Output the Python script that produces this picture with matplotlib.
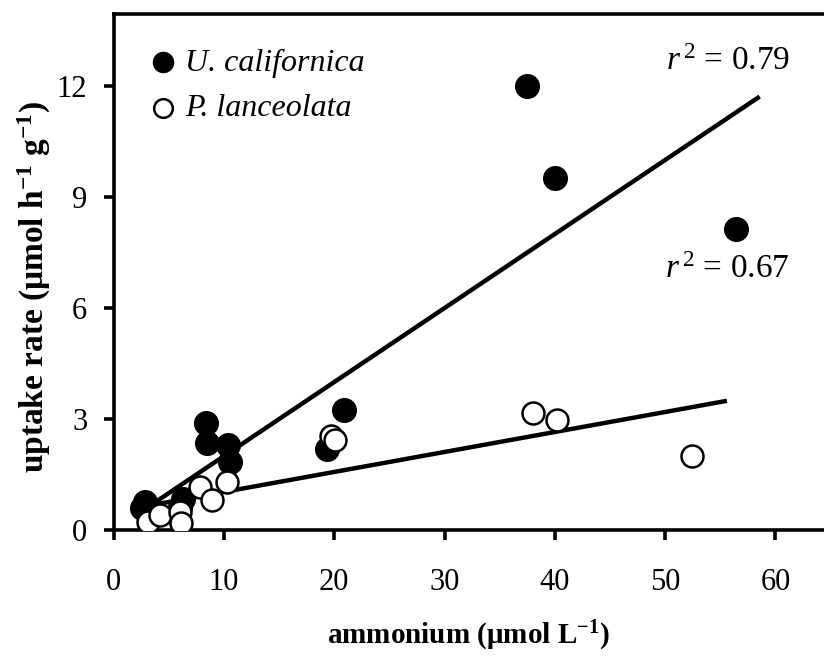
import matplotlib
matplotlib.use("Agg")
import numpy as np
import matplotlib.pyplot as plt

plt.rcParams['font.family'] = ['Liberation Serif', 'DejaVu Serif']
plt.rcParams['mathtext.fontset'] = 'custom'
plt.rcParams['mathtext.rm'] = 'Liberation Serif'
plt.rcParams['mathtext.it'] = 'Liberation Serif:italic'
plt.rcParams['mathtext.bf'] = 'Liberation Serif:bold'

# U. californica (filled)
uc_x = [2.8, 2.6, 6.3, 6.0, 8.4, 8.5, 10.4, 10.5, 19.3, 20.9, 37.5, 40.0, 56.4]
uc_y = [0.77, 0.6, 0.85, 0.62, 2.88, 2.35, 2.3, 1.85, 2.2, 3.24, 12.0, 9.5, 8.13]

# P. lanceolata (open)
pl_x = [3.1, 4.2, 6.0, 6.1, 7.8, 8.9, 10.3, 19.7, 20.1, 38.0, 40.2, 52.4]
pl_y = [0.22, 0.4, 0.5, 0.18, 1.15, 0.82, 1.3, 2.55, 2.42, 3.17, 2.97, 2.0]

# fitted lines: start/end x, slope, intercept
uc_fit_x = [3.0, 58.4]
uc_slope, uc_icpt = 0.2, -0.0
pl_fit_x = [3.0, 55.4]
pl_slope, pl_icpt = 0.054, 0.49

fig = plt.figure(figsize=(8.24, 6.56), dpi=100)
ax = fig.add_axes([0.138, 0.192, 0.862, 0.787])

fx = np.array(uc_fit_x)
ax.plot(fx, uc_slope * fx + uc_icpt, color='black', lw=3.2, zorder=2)
fx = np.array(pl_fit_x)
ax.plot(fx, pl_slope * fx + pl_icpt, color='black', lw=3.2, zorder=2)

ax.scatter(uc_x, uc_y, s=290, facecolor='black', edgecolor='black',
           zorder=3, label='U. californica')
ax.scatter(pl_x, pl_y, s=250, facecolor='white', edgecolor='black',
           linewidths=1.8, zorder=4, label='P. lanceolata')

ax.set_xlim(0, 64.4)
ax.set_ylim(0, 13.95)
ax.set_xticks([0, 10, 20, 30, 40, 50, 60])
ax.set_yticks([0, 3, 6, 9, 12])

for s in ['left', 'bottom', 'top']:
    ax.spines[s].set_linewidth(2.6)
ax.spines['right'].set_visible(False)
ax.tick_params(direction='out', length=7, width=2.6, labelsize=22)
ax.tick_params(axis='x', pad=20)
ax.tick_params(axis='y', pad=12)

ax.set_xlabel('ammonium (μmol L$^{\\mathbf{-1}}$)', fontsize=21,
              fontweight='bold', labelpad=16)
ax.set_ylabel('uptake rate (μmol h$^{\\mathbf{-1}}$ g$^{\\mathbf{-1}}$)',
              fontsize=24, fontweight='bold')
ax.yaxis.set_label_coords(-0.085, 0.47)

ax.text(61.3, 12.65, r'$r^{\,2}$ = 0.79', fontsize=24, ha='right', va='center')
ax.text(61.3, 7.03, r'$r^{\,2}$ = 0.67', fontsize=24, ha='right', va='center')

leg = ax.legend(loc='upper left', bbox_to_anchor=(0.006, 0.958), frameon=False,
                prop={'style': 'italic', 'size': 23}, handletextpad=-0.3,
                labelspacing=0.5, markerscale=0.85, borderaxespad=0)

fig.savefig('out.png', dpi=100)
